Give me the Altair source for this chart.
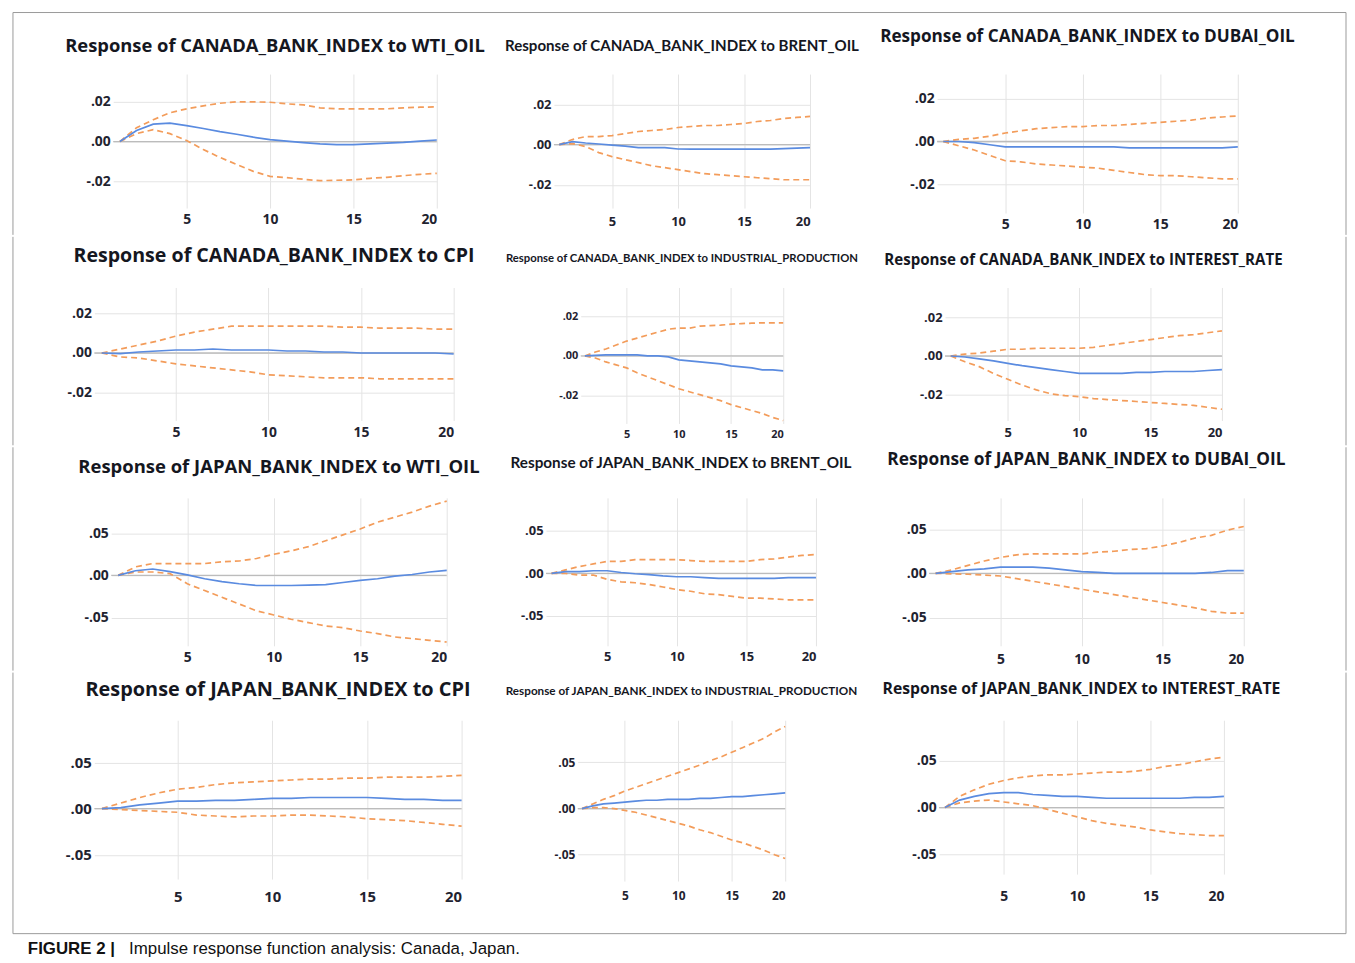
import altair as alt
import pandas as pd

STEPS = list(range(1, 21))

TITLES = [
    "Response of CANADA_BANK_INDEX to WTI_OIL",
    "Response of CANADA_BANK_INDEX to BRENT_OIL",
    "Response of CANADA_BANK_INDEX to DUBAI_OIL",
    "Response of CANADA_BANK_INDEX to CPI",
    "Response of CANADA_BANK_INDEX to INDUSTRIAL_PRODUCTION",
    "Response of CANADA_BANK_INDEX to INTEREST_RATE",
    "Response of JAPAN_BANK_INDEX to WTI_OIL",
    "Response of JAPAN_BANK_INDEX to BRENT_OIL",
    "Response of JAPAN_BANK_INDEX to DUBAI_OIL",
    "Response of JAPAN_BANK_INDEX to CPI",
    "Response of JAPAN_BANK_INDEX to INDUSTRIAL_PRODUCTION",
    "Response of JAPAN_BANK_INDEX to INTEREST_RATE",
]

CA_TICKS = [-0.02, 0.0, 0.02]
JP_TICKS = [-0.05, 0.0, 0.05]
X_TICKS = [5, 10, 15, 20]
X_DOMAIN = [0.6, 20]

# ---- Canada ----
CA_WTI_RESP = [0, 0.0056, 0.0088, 0.0093, 0.0080, 0.0066, 0.0050, 0.0037, 0.0022, 0.0010,
               0.0002, -0.0005, -0.0012, -0.0015, -0.0015, -0.0012, -0.0008, -0.0004, 0.0002, 0.0008]
CA_WTI_UP = [0, 0.0070, 0.0110, 0.0145, 0.0165, 0.0180, 0.0193, 0.0200, 0.0200, 0.0198,
             0.0190, 0.0185, 0.0170, 0.0165, 0.0165, 0.0165, 0.0165, 0.0170, 0.0173, 0.0175]
CA_WTI_LO = [0, 0.0040, 0.0060, 0.0040, 0.0005, -0.0040, -0.0080, -0.0115, -0.0150, -0.0175,
             -0.0182, -0.0190, -0.0197, -0.0195, -0.0193, -0.0185, -0.0180, -0.0172, -0.0165, -0.0160]

CA_BRENT_RESP = [0, 0.0015, 0.0008, 0.0003, -0.0003, -0.0008, -0.0015, -0.0015, -0.0015, -0.0022,
                 -0.0023, -0.0023, -0.0023, -0.0023, -0.0023, -0.0023, -0.0023, -0.0020, -0.0018, -0.0015]
CA_BRENT_UP = [0, 0.0025, 0.0040, 0.0040, 0.0045, 0.0055, 0.0065, 0.0070, 0.0075, 0.0085,
               0.0090, 0.0095, 0.0095, 0.0100, 0.0105, 0.0115, 0.0120, 0.0130, 0.0135, 0.0140]
CA_BRENT_LO = [0, 0.0005, -0.0010, -0.0040, -0.0060, -0.0075, -0.0090, -0.0105, -0.0115, -0.0125,
               -0.0135, -0.0145, -0.0150, -0.0155, -0.0160, -0.0165, -0.0170, -0.0175, -0.0175, -0.0175]

CA_DUBAI_RESP = [0, 0.0, -0.0005, -0.0015, -0.0025, -0.0025, -0.0025, -0.0025, -0.0025, -0.0025,
                 -0.0025, -0.0025, -0.0030, -0.0030, -0.0030, -0.0030, -0.0030, -0.0030, -0.0030, -0.0025]
CA_DUBAI_UP = [0, 0.0010, 0.0015, 0.0025, 0.0040, 0.0050, 0.0060, 0.0065, 0.0070, 0.0070,
               0.0075, 0.0075, 0.0080, 0.0085, 0.0090, 0.0095, 0.0100, 0.0110, 0.0115, 0.0120]
CA_DUBAI_LO = [0, -0.0020, -0.0040, -0.0065, -0.0090, -0.0095, -0.0105, -0.0110, -0.0115, -0.0120,
               -0.0125, -0.0135, -0.0145, -0.0155, -0.0160, -0.0160, -0.0165, -0.0170, -0.0175, -0.0175]

CA_CPI_RESP = [0, -0.0003, 0.0005, 0.0010, 0.0015, 0.0015, 0.0020, 0.0015, 0.0015, 0.0015,
               0.0010, 0.0010, 0.0005, 0.0005, 0.0, 0.0, 0.0, 0.0, 0.0, -0.0005]
CA_CPI_UP = [0, 0.0020, 0.0040, 0.0060, 0.0085, 0.0105, 0.0120, 0.0135, 0.0135, 0.0135,
             0.0135, 0.0135, 0.0135, 0.0130, 0.0130, 0.0125, 0.0125, 0.0125, 0.0120, 0.0120]
CA_CPI_LO = [0, -0.0020, -0.0025, -0.0040, -0.0055, -0.0065, -0.0075, -0.0085, -0.0095, -0.0110,
             -0.0115, -0.0120, -0.0125, -0.0125, -0.0125, -0.0130, -0.0130, -0.0130, -0.0130, -0.0130]

CA_IP_RESP = [0, 0.0003, 0.0005, 0.0005, 0.0005, 0.0005, 0.0, 0.0, -0.0005, -0.0020,
              -0.0025, -0.0030, -0.0035, -0.0040, -0.0050, -0.0055, -0.0060, -0.0070, -0.0070, -0.0075]
CA_IP_UP = [0, 0.0020, 0.0035, 0.0055, 0.0075, 0.0090, 0.0105, 0.0120, 0.0135, 0.0140,
            0.0140, 0.0150, 0.0153, 0.0155, 0.0160, 0.0163, 0.0165, 0.0167, 0.0167, 0.0167]
CA_IP_LO = [0, -0.0010, -0.0030, -0.0045, -0.0060, -0.0085, -0.0105, -0.0125, -0.0145, -0.0165,
            -0.0180, -0.0195, -0.0210, -0.0225, -0.0245, -0.0260, -0.0275, -0.0290, -0.0310, -0.0325]

CA_IR_RESP = [0, -0.0005, -0.0015, -0.0025, -0.0038, -0.0050, -0.0060, -0.0070, -0.0080, -0.0090,
              -0.0090, -0.0090, -0.0090, -0.0085, -0.0085, -0.0080, -0.0080, -0.0080, -0.0075, -0.0070]
CA_IR_UP = [0, 0.0010, 0.0015, 0.0025, 0.0035, 0.0035, 0.0040, 0.0040, 0.0040, 0.0040,
            0.0045, 0.0055, 0.0065, 0.0075, 0.0085, 0.0095, 0.0105, 0.0110, 0.0120, 0.0130]
CA_IR_LO = [0, -0.0030, -0.0055, -0.0090, -0.0120, -0.0150, -0.0175, -0.0195, -0.0205, -0.0210,
            -0.0220, -0.0225, -0.0230, -0.0235, -0.0240, -0.0245, -0.0250, -0.0255, -0.0265, -0.0275]

# ---- Japan ----
JP_WTI_RESP = [0, 0.0055, 0.0075, 0.0045, 0.0005, -0.0040, -0.0075, -0.0100, -0.0120, -0.0120,
               -0.0120, -0.0115, -0.0110, -0.0085, -0.0060, -0.0040, -0.0010, 0.0010, 0.0040, 0.0060]
JP_WTI_UP = [0, 0.0100, 0.0140, 0.0140, 0.0140, 0.0140, 0.0160, 0.0170, 0.0200, 0.0250,
             0.0290, 0.0340, 0.0410, 0.0480, 0.0550, 0.0630, 0.0690, 0.0750, 0.0820, 0.0880]
JP_WTI_LO = [0, 0.0040, 0.0040, 0.0020, -0.0100, -0.0180, -0.0260, -0.0340, -0.0420, -0.0470,
             -0.0520, -0.0560, -0.0600, -0.0620, -0.0660, -0.0690, -0.0730, -0.0750, -0.0770, -0.0790]

JP_BRENT_RESP = [0, 0.0020, 0.0020, 0.0030, 0.0030, 0.0010, -0.0005, -0.0015, -0.0030, -0.0040,
                 -0.0040, -0.0050, -0.0060, -0.0060, -0.0060, -0.0060, -0.0060, -0.0050, -0.0050, -0.0050]
JP_BRENT_UP = [0, 0.0040, 0.0080, 0.0110, 0.0140, 0.0140, 0.0160, 0.0160, 0.0160, 0.0160,
               0.0150, 0.0140, 0.0140, 0.0140, 0.0140, 0.0160, 0.0170, 0.0190, 0.0210, 0.0220]
JP_BRENT_LO = [0, 0.0, -0.0020, -0.0020, -0.0070, -0.0100, -0.0110, -0.0130, -0.0160, -0.0190,
               -0.0210, -0.0240, -0.0250, -0.0270, -0.0290, -0.0290, -0.0300, -0.0310, -0.0310, -0.0310]

JP_DUBAI_RESP = [0, 0.0020, 0.0040, 0.0050, 0.0070, 0.0070, 0.0070, 0.0060, 0.0040, 0.0020,
                 0.0010, 0.0, 0.0, 0.0, 0.0, 0.0, 0.0, 0.0010, 0.0030, 0.0030]
JP_DUBAI_UP = [0, 0.0040, 0.0090, 0.0140, 0.0180, 0.0210, 0.0220, 0.0220, 0.0220, 0.0220,
               0.0240, 0.0250, 0.0270, 0.0280, 0.0310, 0.0350, 0.0400, 0.0430, 0.0490, 0.0530]
JP_DUBAI_LO = [0, -0.0005, -0.0010, -0.0020, -0.0030, -0.0060, -0.0090, -0.0120, -0.0150, -0.0180,
               -0.0210, -0.0240, -0.0270, -0.0300, -0.0330, -0.0360, -0.0390, -0.0430, -0.0450, -0.0450]

JP_CPI_RESP = [0, 0.0010, 0.0040, 0.0060, 0.0080, 0.0080, 0.0090, 0.0090, 0.0100, 0.0110,
               0.0110, 0.0120, 0.0120, 0.0120, 0.0120, 0.0110, 0.0100, 0.0100, 0.0090, 0.0090]
JP_CPI_UP = [0, 0.0060, 0.0120, 0.0170, 0.0210, 0.0230, 0.0260, 0.0280, 0.0290, 0.0300,
             0.0310, 0.0320, 0.0320, 0.0330, 0.0330, 0.0340, 0.0340, 0.0340, 0.0350, 0.0360]
JP_CPI_LO = [0, -0.0010, -0.0020, -0.0030, -0.0040, -0.0070, -0.0080, -0.0090, -0.0080, -0.0080,
             -0.0070, -0.0070, -0.0080, -0.0090, -0.0110, -0.0120, -0.0130, -0.0150, -0.0170, -0.0190]

JP_IP_RESP = [0, 0.0030, 0.0050, 0.0060, 0.0070, 0.0080, 0.0090, 0.0090, 0.0100, 0.0100,
              0.0100, 0.0110, 0.0110, 0.0120, 0.0130, 0.0130, 0.0140, 0.0150, 0.0160, 0.0170]
JP_IP_UP = [0, 0.0050, 0.0100, 0.0140, 0.0190, 0.0230, 0.0270, 0.0310, 0.0350, 0.0390,
            0.0430, 0.0470, 0.0520, 0.0560, 0.0610, 0.0660, 0.0710, 0.0760, 0.0830, 0.0890]
JP_IP_LO = [0, 0.0010, 0.0010, 0.0, -0.0020, -0.0040, -0.0070, -0.0100, -0.0130, -0.0160,
            -0.0190, -0.0230, -0.0260, -0.0300, -0.0340, -0.0370, -0.0410, -0.0450, -0.0500, -0.0540]

JP_IR_RESP = [0, 0.0080, 0.0120, 0.0150, 0.0160, 0.0160, 0.0140, 0.0130, 0.0120, 0.0120,
              0.0110, 0.0100, 0.0100, 0.0100, 0.0100, 0.0100, 0.0100, 0.0110, 0.0110, 0.0120]
JP_IR_UP = [0, 0.0120, 0.0190, 0.0250, 0.0290, 0.0320, 0.0340, 0.0350, 0.0350, 0.0360,
            0.0370, 0.0380, 0.0380, 0.0390, 0.0410, 0.0440, 0.0460, 0.0490, 0.0520, 0.0540]
JP_IR_LO = [0, 0.0050, 0.0070, 0.0080, 0.0060, 0.0040, 0.0020, -0.0020, -0.0060, -0.0100,
            -0.0140, -0.0170, -0.0190, -0.0210, -0.0240, -0.0260, -0.0280, -0.0290, -0.0300, -0.0300]

SERIES = [
    (CA_WTI_RESP, CA_WTI_UP, CA_WTI_LO, CA_TICKS),
    (CA_BRENT_RESP, CA_BRENT_UP, CA_BRENT_LO, CA_TICKS),
    (CA_DUBAI_RESP, CA_DUBAI_UP, CA_DUBAI_LO, CA_TICKS),
    (CA_CPI_RESP, CA_CPI_UP, CA_CPI_LO, CA_TICKS),
    (CA_IP_RESP, CA_IP_UP, CA_IP_LO, CA_TICKS),
    (CA_IR_RESP, CA_IR_UP, CA_IR_LO, CA_TICKS),
    (JP_WTI_RESP, JP_WTI_UP, JP_WTI_LO, JP_TICKS),
    (JP_BRENT_RESP, JP_BRENT_UP, JP_BRENT_LO, JP_TICKS),
    (JP_DUBAI_RESP, JP_DUBAI_UP, JP_DUBAI_LO, JP_TICKS),
    (JP_CPI_RESP, JP_CPI_UP, JP_CPI_LO, JP_TICKS),
    (JP_IP_RESP, JP_IP_UP, JP_IP_LO, JP_TICKS),
    (JP_IR_RESP, JP_IR_UP, JP_IR_LO, JP_TICKS),
]

CAPTION_BOLD = "FIGURE 2 |"
CAPTION_TEXT = "Impulse response function analysis: Canada, Japan."

# ---- layout / style (not data) ----
WIDE = "Open Sans"
NARROW = "Lato"
# td = plot top -> title centre
LAYOUT = [
    dict(w=326, h=135, ymin=-0.0335, ymax=0.034, tf=WIDE, ts=18.5, td=28, ls=14, xp=5),
    dict(w=258, h=135, ymin=-0.0316, ymax=0.0351, tf=NARROW, ts=15.2, td=28, ls=13, xp=8),
    dict(w=303, h=140, ymin=-0.0335, ymax=0.0316, tf=WIDE, ts=17.3, td=37, ls=14, xp=5),
    dict(w=362, h=134, ymin=-0.034, ymax=0.033, tf=WIDE, ts=19.75, td=32, ls=14, xp=5),
    dict(w=204, h=137, ymin=-0.034, ymax=0.0345, tf=NARROW, ts=11.4, td=29, ls=11, xp=5),
    dict(w=279, h=134, ymin=-0.0333, ymax=0.0354, tf=WIDE, ts=15.2, td=28, ls=13, xp=6),
    dict(w=338, h=149, ymin=-0.0835, ymax=0.0918, tf=WIDE, ts=18.6, td=31, ls=14, xp=5),
    dict(w=272, h=149, ymin=-0.0849, ymax=0.0884, tf=NARROW, ts=15.4, td=35, ls=13, xp=5),
    dict(w=317, h=149, ymin=-0.082, ymax=0.0854, tf=WIDE, ts=17.4, td=38, ls=14, xp=7),
    dict(w=370, h=160, ymin=-0.0763, ymax=0.0957, tf=WIDE, ts=20.05, td=30, ls=15, xp=11),
    dict(w=209, h=162, ymin=-0.0785, ymax=0.0957, tf=NARROW, ts=11.8, td=29, ls=12, xp=10),
    dict(w=287, h=155, ymin=-0.0713, ymax=0.0936, tf=WIDE, ts=15.85, td=31, ls=14, xp=16),
]
# per row: horizontal gaps (frame-left -> panel 1, 1 -> 2, 2 -> 3)
ROW_GAPS = [(100.3, 117.5, 127.1), (81.8, 127.5, 162.3), (98.4, 99.1, 113.2), (82, 117, 154.4)]
# per row: extent of the row band relative to its plot top (defines row stacking)
ROW_BAND = [(-62, 162), (-51, 159), (-51, 174), (-48, 215)]
FRAME_W = 1343
FRAME_COLOR = "#9a9a9a"
CAP_Y = 231          # relative to the last row's plot top
CAP_X_BOLD = 15
CAP_X_TEXT = 117

BLUE = "#5a8be0"
ORANGE = "#f39c5a"
GRID = "#e4e4e4"
ZERO = "#bcbcbc"
LABEL = "#1f2330"
TITLE = "#15171f"


def lead_cell(r):
    one = pd.DataFrame({"bold": [CAPTION_BOLD], "rest": [CAPTION_TEXT]})
    top, bot = ROW_BAND[r]
    base = alt.Chart(one).mark_point(opacity=0).encode(
        x=alt.value(0), y=alt.value(0))
    layers = [base]
    for xv in (0, FRAME_W):
        layers.append(alt.Chart(one).mark_rule(color=FRAME_COLOR, strokeWidth=1).encode(
            x=alt.value(xv), y=alt.value(top), y2=alt.value(bot)))
    if r == 0:
        layers.append(alt.Chart(one).mark_rule(color=FRAME_COLOR, strokeWidth=1).encode(
            x=alt.value(0), x2=alt.value(FRAME_W), y=alt.value(top)))
    if r == 3:
        layers.append(alt.Chart(one).mark_rule(color=FRAME_COLOR, strokeWidth=1).encode(
            x=alt.value(0), x2=alt.value(FRAME_W), y=alt.value(bot)))
        layers.append(alt.Chart(one).mark_text(
            align="left", baseline="middle", font="Liberation Sans", fontSize=17,
            fontWeight="bold", color="#111111").encode(
            text="bold:N", x=alt.value(CAP_X_BOLD), y=alt.value(CAP_Y)))
        layers.append(alt.Chart(one).mark_text(
            align="left", baseline="middle", font="Liberation Sans", fontSize=17,
            color="#111111").encode(
            text="rest:N", x=alt.value(CAP_X_TEXT), y=alt.value(CAP_Y)))
    return alt.layer(*layers).properties(width=ROW_GAPS[r][0], height=1)


def gap_cell(w):
    one = pd.DataFrame({"a": [0]})
    return alt.Chart(one).mark_point(opacity=0).encode(
        x=alt.value(0), y=alt.value(0)).properties(width=w, height=1)


def panel(i):
    resp, up, lo, ticks = SERIES[i]
    L = LAYOUT[i]
    df_r = pd.DataFrame({"step": STEPS, "value": resp})
    df_b = pd.DataFrame({
        "step": STEPS + STEPS,
        "value": up + lo,
        "band": ["upper"] * len(STEPS) + ["lower"] * len(STEPS),
    })
    xscale = alt.Scale(domain=X_DOMAIN, nice=False, zero=False)
    yscale = alt.Scale(domain=[L["ymin"], L["ymax"]], nice=False, zero=False)
    xaxis = alt.Axis(values=X_TICKS, title=None, ticks=False, domain=False, grid=True,
                     gridColor=GRID, labelFontSize=L["ls"], labelFont=WIDE,
                     labelFontWeight="bold", labelColor=LABEL, labelPadding=L["xp"])
    yaxis = alt.Axis(values=ticks, title=None, ticks=False, domain=False, grid=True,
                     gridColor=GRID, labelFontSize=L["ls"], labelFont=WIDE,
                     labelFontWeight="bold", labelColor=LABEL, labelPadding=3,
                     labelExpr="replace(replace(format(datum.value, '.2f'), '0.', '.'), '\u2212', '-')")
    x = alt.X("step:Q", scale=xscale, axis=xaxis)
    y = alt.Y("value:Q", scale=yscale, axis=yaxis)
    zero = alt.Chart(pd.DataFrame({"value": [0.0]})).mark_rule(
        color=ZERO, strokeWidth=1.3).encode(y=y)
    bands = alt.Chart(df_b).mark_line(color=ORANGE, strokeDash=[6, 4],
                                      strokeWidth=1.7).encode(x=x, y=y, detail="band:N")
    line = alt.Chart(df_r).mark_line(color=BLUE, strokeWidth=1.7).encode(x=x, y=y)
    title = alt.Chart(pd.DataFrame({"t": [TITLES[i]]})).mark_text(
        align="center", baseline="middle", font=L["tf"], fontSize=L["ts"],
        fontWeight="bold", color=TITLE).encode(
        text="t:N", x=alt.value(L["w"] / 2), y=alt.value(-L["td"]))
    return alt.layer(zero, bands, line, title).properties(width=L["w"], height=L["h"])


rows = []
for r in range(4):
    g = ROW_GAPS[r]
    row_cells = [lead_cell(r), panel(3 * r), gap_cell(g[1]), panel(3 * r + 1),
                 gap_cell(g[2]), panel(3 * r + 2)]
    rows.append(alt.hconcat(*row_cells, spacing=0, bounds="flush"))

chart = alt.vconcat(*rows, spacing=0).properties(
    padding={"left": 2, "top": 0, "right": 0, "bottom": 0},
    background="white",
).configure_view(stroke=None)

chart.save("out.html", embed_options={"renderer": "svg", "actions": False})
